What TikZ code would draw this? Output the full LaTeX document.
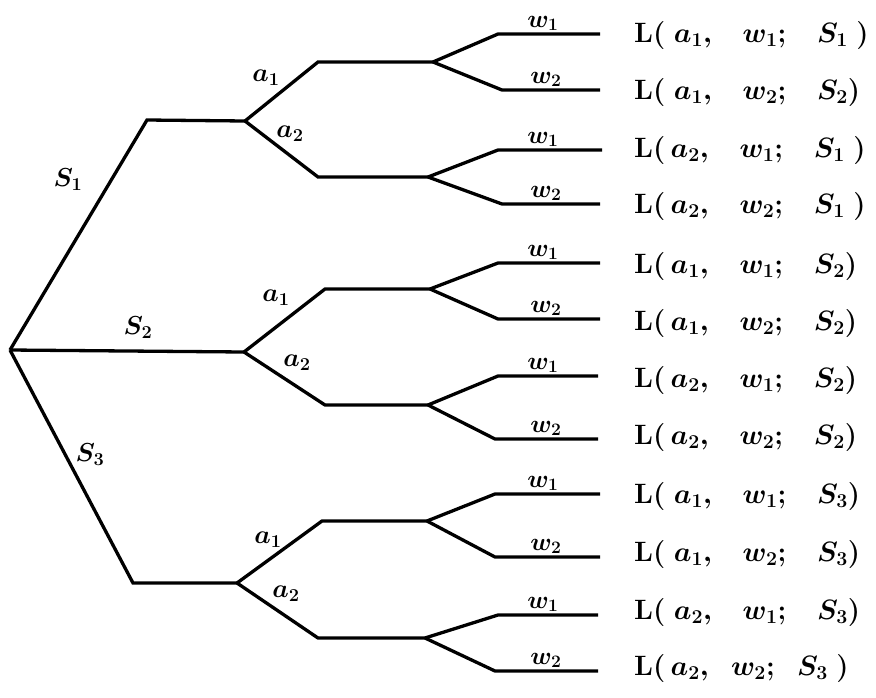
\RequirePackage{fix-cm}
\documentclass[tikz,border=0pt]{standalone}
\usepackage{amsmath}
\begin{document}
\begin{tikzpicture}[x=1pt,y=-1pt,
  branch/.style={line width=3.3pt,line join=miter},
  blabel/.style={font=\fontsize{26}{30}\selectfont\boldmath,inner sep=0pt},
  wlabel/.style={font=\fontsize{25}{30}\selectfont\boldmath,inner sep=0pt,anchor=south},
  loss/.style={font=\fontsize{28}{32}\selectfont\boldmath,inner sep=0pt,anchor=west}]
\useasboundingbox (0,0) rectangle (876,697);
% root and first level
\coordinate (R) at (10,350);
\coordinate (S1c) at (147,120); \coordinate (A) at (245,121);
\coordinate (B) at (244,352);
\coordinate (S3c) at (133,583); \coordinate (C) at (237,583);
% group A
\coordinate (A1c) at (318,62);  \coordinate (A1) at (433,62);
\coordinate (A11c) at (498,34); \coordinate (A11e) at (600,34);
\coordinate (A12c) at (502,90); \coordinate (A12e) at (600,90);
\coordinate (A2c) at (318,177); \coordinate (A2) at (428,177);
\coordinate (A21c) at (498,150); \coordinate (A21e) at (602,150);
\coordinate (A22c) at (502,204); \coordinate (A22e) at (600,204);
% group B
\coordinate (B1c) at (325,289); \coordinate (B1) at (430,289);
\coordinate (B11c) at (498,263); \coordinate (B11e) at (600,263);
\coordinate (B12c) at (498,319); \coordinate (B12e) at (600,319);
\coordinate (B2c) at (325,405); \coordinate (B2) at (428,405);
\coordinate (B21c) at (498,376); \coordinate (B21e) at (598,376);
\coordinate (B22c) at (495,439); \coordinate (B22e) at (598,439);
% group C
\coordinate (C1c) at (322,521); \coordinate (C1) at (427,521);
\coordinate (C11c) at (495,494); \coordinate (C11e) at (600,494);
\coordinate (C12c) at (495,557); \coordinate (C12e) at (600,557);
\coordinate (C2c) at (318,638); \coordinate (C2) at (425,638);
\coordinate (C21c) at (498,615); \coordinate (C21e) at (598,615);
\coordinate (C22c) at (495,671); \coordinate (C22e) at (598,671);

% branches
\draw[branch] (R) -- (S1c) -- (A);
\draw[branch] (R) -- (B);
\draw[branch] (R) -- (S3c) -- (C);
\foreach \g in {A,B,C}{
  \draw[branch] (\g) -- (\g1c) -- (\g1);
  \draw[branch] (\g) -- (\g2c) -- (\g2);
  \foreach \k in {1,2}{
    \draw[branch] (\g\k) -- (\g\k1c) -- (\g\k1e);
    \draw[branch] (\g\k) -- (\g\k2c) -- (\g\k2e);
  }
}

% branch labels
\node[blabel] (ls1) at (68,180) {$S_1$};
\node[blabel] (ls2) at (138,328) {$S_2$};
\node[blabel] (ls3) at (90,455) {$S_3$};
\node[blabel] (la1A) at (266,78) {$a_1$};
\node[blabel] (la2A) at (290,134) {$a_2$};
\node[blabel] (la1B) at (276,298) {$a_1$};
\node[blabel] (la2B) at (297,363) {$a_2$};
\node[blabel] (la1C) at (268,540) {$a_1$};
\node[blabel] (la2C) at (286,594) {$a_2$};

% w labels
\node[wlabel] (wA11) at (543,31) {$w_1$};
\node[wlabel] (wA12) at (546,87) {$w_2$};
\node[wlabel] (wA21) at (543,147) {$w_1$};
\node[wlabel] (wA22) at (546,201) {$w_2$};
\node[wlabel] (wB11) at (543,260) {$w_1$};
\node[wlabel] (wB12) at (546,316) {$w_2$};
\node[wlabel] (wB21) at (543,373) {$w_1$};
\node[wlabel] (wB22) at (546,436) {$w_2$};
\node[wlabel] (wC11) at (543,491) {$w_1$};
\node[wlabel] (wC12) at (546,554) {$w_2$};
\node[wlabel] (wC21) at (543,612) {$w_1$};
\node[wlabel] (wC22) at (546,668) {$w_2$};

% losses
\node[loss] (L1)  at (634,35)  {$\mathrm{L}(\ a_1,\ \ \ w_1;\ \ \ S_1\ )$};
\node[loss] (L2)  at (634,92)  {$\mathrm{L}(\ a_1,\ \ \ w_2;\ \ \ S_2)$};
\node[loss] (L3)  at (634,150) {$\mathrm{L}(\,a_2,\ \ \ w_1;\ \ \ S_1\ )$};
\node[loss] (L4)  at (634,206) {$\mathrm{L}(\,a_2,\ \ \ w_2;\ \ \ S_1\ )$};
\node[loss] (L5)  at (634,266) {$\mathrm{L}(\,a_1,\ \ \ w_1;\ \ \ S_2)$};
\node[loss] (L6)  at (634,323) {$\mathrm{L}(\,a_1,\ \ \ w_2;\ \ \ S_2)$};
\node[loss] (L7)  at (634,380) {$\mathrm{L}(\,a_2,\ \ \ w_1;\ \ \ S_2)$};
\node[loss] (L8)  at (634,437) {$\mathrm{L}(\,a_2,\ \ \ w_2;\ \ \ S_2)$};
\node[loss] (L9)  at (634,496) {$\mathrm{L}(\ a_1,\ \ \ w_1;\ \ \ S_3)$};
\node[loss] (L10) at (634,554) {$\mathrm{L}(\ a_1,\ \ \ w_2;\ \ \ S_3)$};
\node[loss] (L11) at (634,612) {$\mathrm{L}(\ a_2,\ \ \ w_1;\ \ \ S_3)$};
\node[loss] (L12) at (634,668) {$\mathrm{L}(\,a_2,\ \ w_2;\ \ S_3\ )$};
\end{tikzpicture}
\end{document}
